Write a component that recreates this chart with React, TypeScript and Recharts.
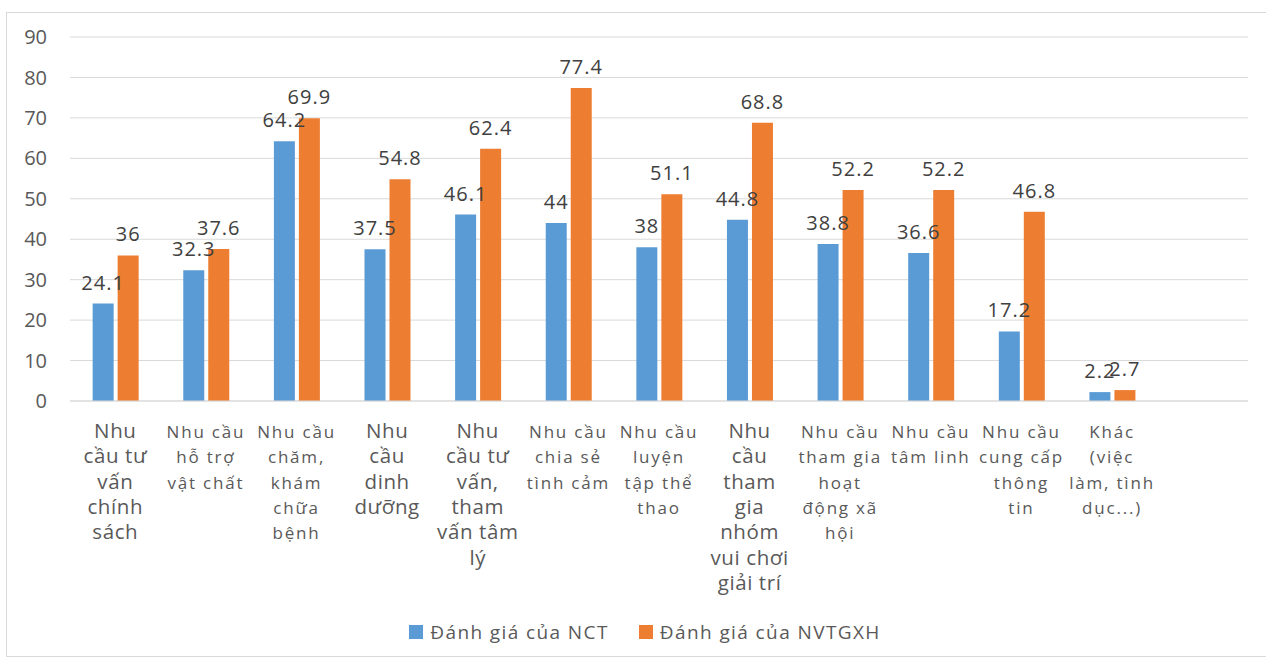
import { BarChart, Bar, XAxis, YAxis, CartesianGrid, Legend, LabelList } from 'recharts'

// category labels, broken into lines the way the original wraps them
const categoryLines: string[][] = [
  ['Nhu', 'cầu tư', 'vấn', 'chính', 'sách'],
  ['Nhu cầu', 'hỗ trợ', 'vật chất'],
  ['Nhu cầu', 'chăm,', 'khám', 'chữa', 'bệnh'],
  ['Nhu', 'cầu', 'dinh', 'dưỡng'],
  ['Nhu', 'cầu tư', 'vấn,', 'tham', 'vấn tâm', 'lý'],
  ['Nhu cầu', 'chia sẻ', 'tình cảm'],
  ['Nhu cầu', 'luyện', 'tập thể', 'thao'],
  ['Nhu', 'cầu', 'tham', 'gia', 'nhóm', 'vui chơi', 'giải trí'],
  ['Nhu cầu', 'tham gia', 'hoạt', 'động xã', 'hội'],
  ['Nhu cầu', 'tâm linh'],
  ['Nhu cầu', 'cung cấp', 'thông', 'tin'],
  ['Khác', '(việc', 'làm, tình', 'dục...)'],
  [],
]

const nct = [24.1, 32.3, 64.2, 37.5, 46.1, 44, 38, 44.8, 38.8, 36.6, 17.2, 2.2, null]
const nvtgxh = [36, 37.6, 69.9, 54.8, 62.4, 77.4, 51.1, 68.8, 52.2, 52.2, 46.8, 2.7, null]

const yTicks = [0, 10, 20, 30, 40, 50, 60, 70, 80, 90]

const seriesNames = { nct: 'Đánh giá của NCT', nvtgxh: 'Đánh giá của NVTGXH' }

const data = categoryLines.map((lines, i) => ({
  name: lines.join(' '),
  nct: nct[i],
  nvtgxh: nvtgxh[i],
}))

const BLUE = '#5B9BD5'
const ORANGE = '#ED7D31'
const FONT = '"Open Sans", "DejaVu Sans", sans-serif'

// some labels in the source render larger than others
const bigLabel = [true, false, false, true, true, false, false, true, false, false, false, false, false]

function CategoryTick(props: any) {
  const { x, y, index } = props
  const lines = categoryLines[index] || []
  const big = bigLabel[index]
  return (
    <text
      x={x}
      y={y}
      textAnchor="middle"
      fill="#595959"
      fontFamily={FONT}
      fontSize={big ? 20.5 : 17}
      letterSpacing={big ? 0.6 : 1.8}
    >
      {lines.map((l, i) => (
        <tspan key={i} x={x} dy={i === 0 ? 29 : 25.3}>
          {l}
        </tspan>
      ))}
    </text>
  )
}

function LegendContent() {
  const items = [
    { label: seriesNames.nct, color: BLUE },
    { label: seriesNames.nvtgxh, color: ORANGE },
  ]
  return (
    <div
      style={{
        display: 'flex',
        justifyContent: 'center',
        paddingLeft: 42,
        paddingTop: 8,
        fontFamily: FONT,
        fontSize: 19,
        color: '#595959',
        letterSpacing: 1.4,
      }}
    >
      {items.map((it) => (
        <div key={it.label} style={{ display: 'flex', alignItems: 'center', margin: '0 15px' }}>
          <span style={{ width: 14, height: 14, background: it.color, marginRight: 7 }} />
          <span>{it.label}</span>
        </div>
      ))}
    </div>
  )
}

export default function App() {
  return (
    <div style={{ position: 'absolute', left: 0, top: 0, width: 1266, height: 657, background: '#fff' }}>
      <div
        style={{
          position: 'absolute',
          left: 6,
          top: 12,
          width: 1280,
          height: 643,
          border: '1px solid #d9d9d9',
        }}
      />
      <BarChart
        width={1266}
        height={657}
        data={data}
        margin={{ top: 37, right: 18, bottom: 0, left: 0 }}
        barCategoryGap="25%"
        barGap={4}
      >
        <CartesianGrid vertical={false} stroke="#d9d9d9" />
        <XAxis
          dataKey="name"
          axisLine={{ stroke: '#d9d9d9' }}
          tickLine={false}
          interval={0}
          height={210}
          tick={<CategoryTick />}
        />
        <YAxis
          domain={[0, 90]}
          ticks={yTicks}
          width={70}
          axisLine={false}
          tickLine={false}
          tickSize={0}
          tickMargin={23}
          tick={{ fontSize: 20, fill: '#595959', fontFamily: FONT }}
        />
        <Legend verticalAlign="bottom" height={46} content={<LegendContent />} />
        <Bar dataKey="nct" name={seriesNames.nct} fill={BLUE} isAnimationActive={false}>
          <LabelList dataKey="nct" position="top" offset={14} fill="#404040" fontSize={20} letterSpacing={1} fontFamily={FONT} />
        </Bar>
        <Bar dataKey="nvtgxh" name={seriesNames.nvtgxh} fill={ORANGE} isAnimationActive={false}>
          <LabelList dataKey="nvtgxh" position="top" offset={14} fill="#404040" fontSize={20} letterSpacing={1} fontFamily={FONT} />
        </Bar>
      </BarChart>
    </div>
  )
}
